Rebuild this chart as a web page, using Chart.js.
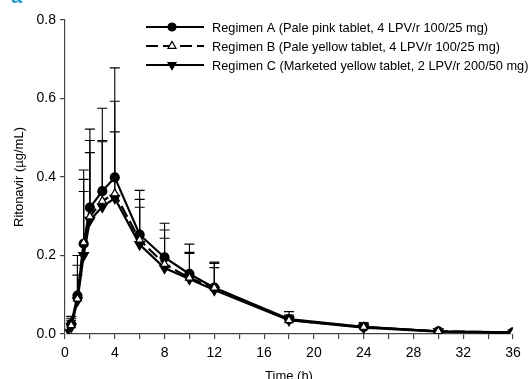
<!DOCTYPE html>
<html>
<head>
<meta charset="utf-8">
<style>
  html, body { margin: 0; padding: 0; background: #fff; }
  #wrap { width: 531px; height: 379px; position: relative; }
</style>
<script src="https://cdn.jsdelivr.net/npm/chart.js@4/dist/chart.umd.min.js"></script>
</head>
<body>
<div id="wrap"><canvas id="pkChart" width="531" height="379"></canvas></div>
<script>
(() => {
    "use strict";

    const times = [0, 0.5, 1, 1.5, 2, 3, 4, 6, 8, 10, 12, 18, 24, 30, 36];
    const regimenA = [0, 0.025, 0.098, 0.23, 0.322, 0.364, 0.399, 0.253, 0.195, 0.153, 0.118, 0.038, 0.018, 0.007, 0.004];
    const regimenB = [0, 0.022, 0.09, 0.233, 0.299, 0.339, 0.358, 0.24, 0.178, 0.143, 0.118, 0.035, 0.018, 0.007, 0.004];
    const regimenC = [0, 0.018, 0.085, 0.2, 0.29, 0.324, 0.346, 0.228, 0.168, 0.14, 0.112, 0.035, 0.016, 0.006, 0.003];
    // mean + SD (top of the error bars)
    const upperA = [0, 0.045, 0.2, 0.418, 0.522, 0.575, 0.678, 0.366, 0.282, 0.229, 0.183, 0.057, 0.029, 0.01, 0.006];
    const upperB = [0, 0.04, 0.175, 0.394, 0.493, 0.493, 0.593, 0.343, 0.265, 0.208, 0.18, 0.048, 0.026, 0.009, 0.005];
    const upperC = [0, 0.035, 0.15, 0.363, 0.462, 0.49, 0.515, 0.323, 0.244, 0.205, 0.169, 0.045, 0.024, 0.008, 0.005];
    const legendLabels = [
        "Regimen A (Pale pink tablet, 4 LPV/r 100/25 mg)",
        "Regimen B (Pale yellow tablet, 4 LPV/r 100/25 mg)",
        "Regimen C (Marketed yellow tablet, 2 LPV/r 200/50 mg)"
    ];

    const FONT = "'Liberation Sans', Arial, sans-serif";
    const INK = "#000000";
    const AXIS = "#444444";

    const toPoints = (values) => values.map((v, i) => ({ x: times[i], y: v }));

    const errorBars = {
        id: "errorBars",
        beforeDatasetsDraw(chart) {
            const { ctx, scales } = chart;
            ctx.save();
            ctx.strokeStyle = INK;
            ctx.lineWidth = 1.1;
            chart.data.datasets.forEach((ds) => {
                ds.upper.forEach((u, i) => {
                    const x = scales.x.getPixelForValue(times[i]);
                    const y0 = scales.y.getPixelForValue(ds.data[i].y);
                    const y1 = scales.y.getPixelForValue(u);
                    if (y0 - y1 < 1) return;
                    ctx.beginPath();
                    ctx.moveTo(x, y0);
                    ctx.lineTo(x, y1);
                    ctx.moveTo(x - 5, y1);
                    ctx.lineTo(x + 5, y1);
                    ctx.stroke();
                });
            });
            ctx.restore();
        }
    };

    // legend drawn by hand so each entry shows line + marker like the original
    const customLegend = {
        id: "customLegend",
        afterDraw(chart) {
            const { ctx } = chart;
            const rows = [27, 46, 65];
            ctx.save();
            ctx.font = "13px " + FONT;
            const squeeze = 276 / ctx.measureText(legendLabels[0]).width;
            chart.data.datasets.forEach((ds, i) => {
                const y = rows[i];
                ctx.strokeStyle = INK;
                ctx.lineWidth = 2;
                ctx.setLineDash(ds.borderDash || []);
                ctx.beginPath();
                ctx.moveTo(146, y);
                ctx.lineTo(204, y);
                ctx.stroke();
                ctx.setLineDash([]);
                ctx.fillStyle = ds.pointBackgroundColor;
                ctx.strokeStyle = INK;
                ctx.lineWidth = 1.2;
                Chart.helpers.drawPoint(ctx, {
                    pointStyle: ds.pointStyle,
                    radius: ds.pointRadius,
                    rotation: ds.pointRotation || 0,
                    borderWidth: 1.2
                }, 172, y);
                ctx.save();
                ctx.translate(212, y + 1);
                ctx.scale(squeeze, 1);
                ctx.fillStyle = INK;
                ctx.font = "13px " + FONT;
                ctx.textBaseline = "middle";
                ctx.fillText(legendLabels[i], 0, 0);
                ctx.restore();
            });
            // panel letter, clipped by the top edge
            ctx.fillStyle = "#1a9ad6";
            ctx.font = "bold 20px " + FONT;
            ctx.textBaseline = "alphabetic";
            ctx.fillText("a", 11, 3);
            ctx.restore();
        }
    };

    new Chart(document.getElementById("pkChart"), {
        type: "line",
        data: {
            datasets: [
                {
                    label: legendLabels[0],
                    data: toPoints(regimenA),
                    upper: upperA,
                    borderColor: INK,
                    borderWidth: 2.2,
                    pointStyle: "circle",
                    pointRadius: 4,
                    pointBackgroundColor: INK,
                    pointBorderColor: INK,
                    order: 1
                },
                {
                    label: legendLabels[1],
                    data: toPoints(regimenB),
                    upper: upperB,
                    borderColor: INK,
                    borderWidth: 2.2,
                    borderDash: [12, 5],
                    pointStyle: "triangle",
                    pointRadius: 4.6,
                    pointBackgroundColor: "#ffffff",
                    pointBorderColor: INK,
                    pointBorderWidth: 1.2,
                    order: 0
                },
                {
                    label: legendLabels[2],
                    data: toPoints(regimenC),
                    upper: upperC,
                    borderColor: INK,
                    borderWidth: 2.2,
                    pointStyle: "triangle",
                    pointRotation: 180,
                    pointRadius: 4.6,
                    pointBackgroundColor: INK,
                    pointBorderColor: INK,
                    order: 2
                }
            ]
        },
        options: {
            responsive: false,
            animation: false,
            devicePixelRatio: 1,
            layout: { padding: { top: 20, right: 18, left: 0, bottom: 0 } },
            plugins: {
                legend: { display: false },
                tooltip: { enabled: false }
            },
            scales: {
                x: {
                    type: "linear",
                    min: 0,
                    max: 36,
                    afterFit: (scale) => { scale.height = 45; },
                    border: { color: AXIS, width: 1.2 },
                    grid: { display: true, drawOnChartArea: false, drawTicks: true, tickLength: 5, color: AXIS, lineWidth: 1.2 },
                    ticks: {
                        stepSize: 2,
                        autoSkip: false,
                        maxRotation: 0,
                        color: INK,
                        padding: 6,
                        font: { family: FONT, size: 14 },
                        callback: (value) => (value % 4 === 0 ? String(value) : "")
                    },
                    title: {
                        display: true,
                        text: "Time (h)",
                        color: INK,
                        padding: { top: 0, bottom: -5 },
                        font: { family: FONT, size: 13 }
                    }
                },
                y: {
                    min: 0,
                    max: 0.8,
                    afterFit: (scale) => { scale.width = 65; },
                    border: { color: AXIS, width: 1.2 },
                    grid: { display: true, drawOnChartArea: false, drawTicks: true, tickLength: 5, color: AXIS, lineWidth: 1.2 },
                    ticks: {
                        stepSize: 0.2,
                        color: INK,
                        padding: 4,
                        font: { family: FONT, size: 14 },
                        callback: (value) => Number(value).toFixed(1)
                    },
                    title: {
                        display: true,
                        text: "Ritonavir (µg/mL)",
                        color: INK,
                        padding: { top: 12, bottom: 0 },
                        font: { family: FONT, size: 13 }
                    }
                }
            }
        },
        plugins: [errorBars, customLegend]
    });
})();
</script>
</body>
</html>
